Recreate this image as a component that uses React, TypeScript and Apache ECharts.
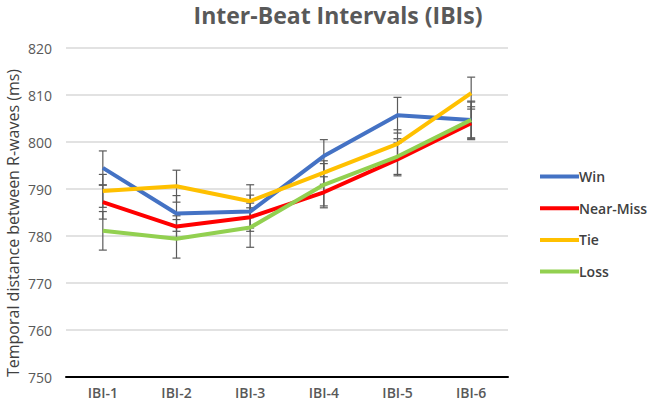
import React, { useEffect, useRef } from "react";
import * as echarts from "echarts";

const categories = ["IBI-1", "IBI-2", "IBI-3", "IBI-4", "IBI-5", "IBI-6"];
const seriesNames = ["Win", "Near-Miss", "Tie", "Loss"];
const winValues = [794.5, 784.8, 785.2, 797.0, 805.7, 804.7];
const nearMissValues = [787.2, 782.0, 784.0, 789.3, 796.3, 804.0];
const tieValues = [789.6, 790.6, 787.4, 793.5, 799.6, 810.4];
const lossValues = [781.1, 779.4, 781.8, 790.9, 796.9, 804.7];
const winErrors = [3.6, 3.8, 3.5, 3.5, 3.8, 4.0];
const nearMissErrors = [3.6, 2.3, 3.0, 3.3, 3.5, 3.5];
const tieErrors = [3.5, 3.4, 3.5, 2.5, 3.0, 3.4];
const lossErrors = [4.1, 4.1, 4.2, 4.5, 3.8, 3.8];
const colors = ["#4472C4", "#FF0000", "#FFC000", "#92D050"];

const allValues = [winValues, nearMissValues, tieValues, lossValues];
const allErrors = [winErrors, nearMissErrors, tieErrors, lossErrors];

export default function App() {
  const ref = useRef<HTMLDivElement>(null);
  useEffect(() => {
    if (!ref.current) return;
    const chart = echarts.init(ref.current, null, { renderer: "svg" });
    const lineSeries = seriesNames.map((name, i) => ({
      name,
      type: "line",
      data: allValues[i],
      symbol: "none",
      lineStyle: { width: 4, color: colors[i] },
      itemStyle: { color: colors[i] },
      z: 3,
    }));
    const errorSeries = seriesNames.map((name, i) => ({
      name: name + "-err",
      type: "custom",
      z: 2,
      data: allValues[i].map((v, j) => [j, v - allErrors[i][j], v + allErrors[i][j]]),
      renderItem: (params: any, api: any) => {
        const x = api.value(0);
        const lo = api.coord([x, api.value(1)]);
        const hi = api.coord([x, api.value(2)]);
        const cap = 4;
        const style = { stroke: "#5a5a5a", lineWidth: 1.2 };
        return {
          type: "group",
          children: [
            { type: "line", shape: { x1: hi[0], y1: hi[1], x2: lo[0], y2: lo[1] }, style },
            { type: "line", shape: { x1: hi[0] - cap, y1: hi[1], x2: hi[0] + cap, y2: hi[1] }, style },
            { type: "line", shape: { x1: lo[0] - cap, y1: lo[1], x2: lo[0] + cap, y2: lo[1] }, style },
          ],
        };
      },
    }));
    chart.setOption({
      animation: false,
      backgroundColor: "#ffffff",
      title: {
        text: "Inter-Beat Intervals (IBIs)",
        left: 333,
        textAlign: "center",
        top: -2,
        textStyle: { fontFamily: "Open Sans", fontSize: 23, fontWeight: "bold", color: "#595959" },
      },
      legend: {
        data: seriesNames,
        orient: "vertical",
        left: 535,
        top: 163,
        icon: "rect",
        itemWidth: 39,
        itemHeight: 4,
        itemGap: 14.7,
        textStyle: { fontFamily: "Open Sans", fontSize: 14, fontWeight: 600, color: "#404040", lineHeight: 17, padding: [0, 0, 0, -5] },
      },
      graphic: [
        {
          type: "text",
          x: 13,
          y: 223,
          rotation: Math.PI / 2,
          style: {
            text: "Temporal distance between R-waves (ms)",
            fontFamily: "Open Sans",
            fontSize: 16,
            fill: "#404040",
            textAlign: "center",
            textVerticalAlign: "middle",
          },
        },
      ],
      grid: { left: 66, right: 141, top: 48, bottom: 29 },
      xAxis: {
        type: "category",
        data: categories,
        boundaryGap: true,
        axisLine: { lineStyle: { color: "#000000", width: 2 } },
        axisTick: { show: false },
        axisLabel: { fontFamily: "Open Sans", fontSize: 14, fontWeight: 600, color: "#595959", margin: 8 },
      },
      yAxis: {
        type: "value",
        min: 750,
        max: 820,
        interval: 10,
        axisLine: { show: false },
        axisTick: { show: false },
        axisLabel: { fontFamily: "Open Sans", fontSize: 14, color: "#595959", margin: 14 },
        splitLine: { lineStyle: { color: "#d9d9d9", width: 1.5 } },
      },
      series: [...errorSeries, ...lineSeries],
    });
    return () => chart.dispose();
  }, []);
  return <div ref={ref} style={{ width: 649, height: 406, position: "absolute", left: 0, top: 0 }} />;
}
